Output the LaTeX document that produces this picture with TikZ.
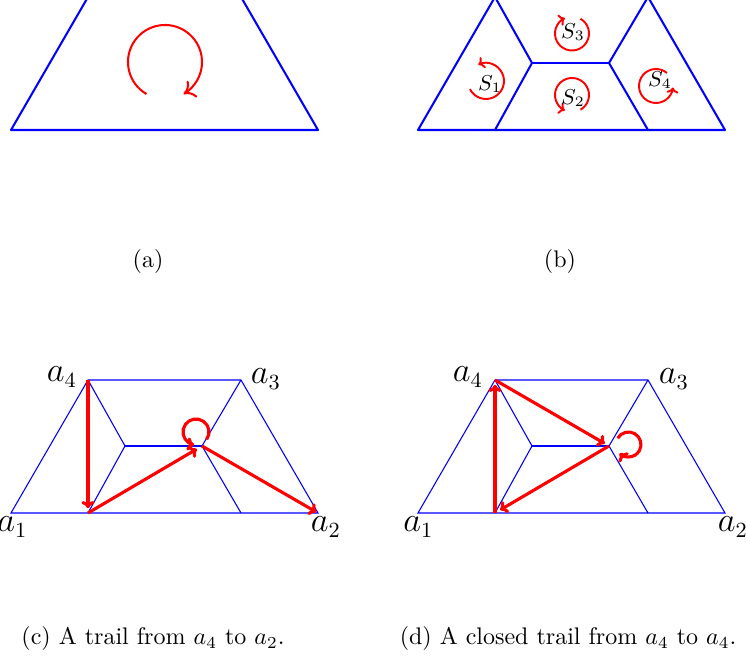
\documentclass[tikz,border=0pt]{standalone}
\usetikzlibrary{calc,arrows.meta}
\begin{document}
\begin{tikzpicture}[x=0.41667pt,y=0.41667pt,
  thickblue/.style={blue, line width=0.85pt, line join=round},
  thinblue/.style={blue, line width=0.45pt},
  bigarc/.style={red, line width=0.85pt, -{To[length=4.5pt,width=8pt]}},
  smallarc/.style={red, line width=0.8pt, -{To[length=2.4pt,width=5pt]}},
  redarrow/.style={red, line width=1.3pt, -{To[length=3pt,width=5.5pt]}},
  vlabel/.style={font=\fontsize{13.5}{15}\selectfont, inner sep=0pt},
  slabel/.style={font=\small, inner sep=0pt},
  caption/.style={inner sep=0pt}]
\clip (0,0) rectangle (746,661);

% ---------- (a)
\begin{scope}[shift={(11,531)}]
  \coordinate (aA1) at (0,0);
  \coordinate (aA2) at (307,0);
  \coordinate (aA3) at (230,133);
  \coordinate (aA4) at (77,133);
  \coordinate (aC) at (154,68);
  \draw[thickblue] (aA1) -- (aA2) -- (aA3) -- (aA4) -- cycle;
  \draw[bigarc] ($(aC)+(240:37)$) arc[start angle=240, end angle=-60, radius=37];
\end{scope}

% ---------- (b)
\begin{scope}[shift={(418,531)}]
  \coordinate (bA1) at (0,0);
  \coordinate (bA2) at (307,0);
  \coordinate (bA3) at (230,133);
  \coordinate (bA4) at (77,133);
  \coordinate (bL) at (114,67);
  \coordinate (bR) at (191,67);
  \coordinate (bB1) at (77,0);
  \coordinate (bB2) at (230,0);
  \draw[thickblue] (bA1) -- (bA2) -- (bA3) -- (bA4) -- cycle;
  \draw[thickblue] (bA4) -- (bL) -- (bB1);
  \draw[thickblue] (bL) -- (bR);
  \draw[thickblue] (bA3) -- (bR) -- (bB2);
  \coordinate (bC1) at (68,49);
  \coordinate (bC2) at (154,35);
  \coordinate (bC3) at (154,96.5);
  \coordinate (bC4) at (238,44);
  \draw[smallarc] ($(bC1)+(207:18)$) arc[start angle=207, end angle=475, radius=18];
  \draw[smallarc] ($(bC2)+(-60:17)$) arc[start angle=-60, end angle=245, radius=17];
  \draw[smallarc] ($(bC3)+(60:17)$) arc[start angle=60, end angle=-245, radius=17];
  \draw[smallarc] ($(bC4)+(50:17)$) arc[start angle=50, end angle=355, radius=17];
  \node[slabel] (s1) at (72,46) {$S_1$};
  \node[slabel] (s2) at (155,32) {$S_2$};
  \node[slabel] (s3) at (155,98) {$S_3$};
  \node[slabel] (s4) at (242,50) {$S_4$};
\end{scope}

% ---------- (c)
\begin{scope}[shift={(11,148)}]
  \coordinate (cA1) at (0,0);
  \coordinate (cA2) at (307,0);
  \coordinate (cA3) at (230,133);
  \coordinate (cA4) at (77,133);
  \coordinate (cL) at (114,67);
  \coordinate (cR) at (191,67);
  \coordinate (cB1) at (77,0);
  \coordinate (cB2) at (230,0);
  \coordinate (cC) at (185,81);
  \draw[thinblue] (cA1) -- (cA2) -- (cA3) -- (cA4) -- cycle;
  \draw[thinblue] (cA4) -- (cL) -- (cB1);
  \draw[thinblue] (cL) -- (cR);
  \draw[thinblue] (cA3) -- (cR) -- (cB2);
  \draw[redarrow, shorten >=2pt] (cA4) -- (cB1);
  \draw[redarrow, shorten >=2.5pt] (cB1) -- (cR);
  \draw[redarrow, shorten >=0.8pt] (cR) -- (cA2);
  \draw[redarrow] ($(cC)+(-35:13)$) arc[start angle=-35, end angle=262, radius=13];
  \node[vlabel] (ca1) at (1.5,-14) {$a_1$};
  \node[vlabel] (ca2) at (315,-14) {$a_2$};
  \node[vlabel] (ca3) at (255,134) {$a_3$};
  \node[vlabel] (ca4) at (51,136) {$a_4$};
\end{scope}

% ---------- (d)
\begin{scope}[shift={(418,148)}]
  \coordinate (dA1) at (0,0);
  \coordinate (dA2) at (307,0);
  \coordinate (dA3) at (230,133);
  \coordinate (dA4) at (77,133);
  \coordinate (dL) at (114,67);
  \coordinate (dR) at (191,67);
  \coordinate (dB1) at (77,0);
  \coordinate (dB2) at (230,0);
  \coordinate (dC) at (210.5,68.5);
  \draw[thinblue] (dA1) -- (dA2) -- (dA3) -- (dA4) -- cycle;
  \draw[thinblue] (dA4) -- (dL) -- (dB1);
  \draw[thinblue] (dL) -- (dR);
  \draw[thinblue] (dA3) -- (dR) -- (dB2);
  \draw[redarrow, shorten >=2pt] (dB1) -- (dA4);
  \draw[redarrow, shorten >=2pt] (dA4) -- (dR);
  \draw[redarrow, shorten >=2.5pt] (dR) -- (dB1);
  \draw[redarrow] ($(dC)+(150:12.5)$) arc[start angle=150, end angle=-135, radius=12.5];
  \node[vlabel] (da1) at (0.5,-14) {$a_1$};
  \node[vlabel] (da2) at (315,-14) {$a_2$};
  \node[vlabel] (da3) at (256,134) {$a_3$};
  \node[vlabel] (da4) at (50,136) {$a_4$};
\end{scope}

% ---------- captions
\node[caption] (capa) at (148,399) {(a)};
\node[caption] (capb) at (560,399) {(b)};
\node[caption] (capc) at (153,22) {(c) A trail from $a_4$ to $a_2$.};
\node[caption] (capd) at (568,22) {(d) A closed trail from $a_4$ to $a_4$.};
\end{tikzpicture}
\end{document}
